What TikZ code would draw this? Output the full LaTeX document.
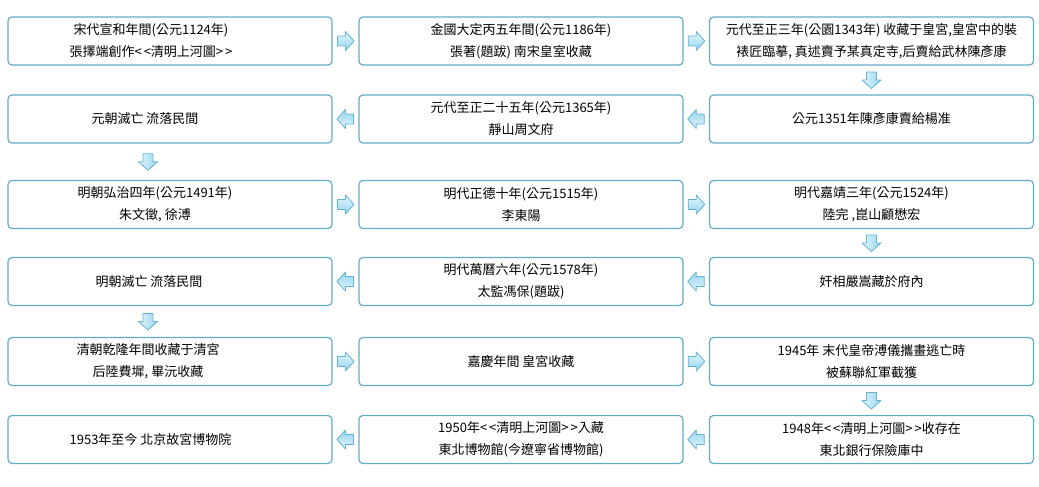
\documentclass[tikz,border=0pt]{standalone}
\usepackage{fontspec}
\setmainfont{Noto Sans CJK TC}
\usepackage{tikz}
\usetikzlibrary{calc}
\definecolor{boxline}{RGB}{98,172,200}
\definecolor{arrline}{RGB}{100,178,210}
\definecolor{arrtop}{RGB}{226,246,253}
\definecolor{arrbot}{RGB}{150,213,239}
\tikzset{
  event/.style={draw=boxline,line width=1.2pt,rounded corners=4pt,
    minimum width=324pt,minimum height=48pt,inner sep=0pt,align=center,
    text=black,font=\fontsize{13}{22}\selectfont},
  % first column: text sits left of the box centre
  leftcol/.style={align=center,text=black,inner sep=0pt,
    font=\fontsize{13}{22}\selectfont,xshift=#1},
  arrowbody/.style={draw=arrline,line width=.8pt,top color=arrtop,
    bottom color=arrbot,line join=round},
  pics/blockarrow/.style={code={
    \draw[arrowbody,rotate=#1,shading angle=-#1]
      (-8,-5) -- (0,-5) -- (0,-9.5) -- (8.5,0) -- (0,9.5) -- (0,5) -- (-8,5) -- cycle;}}
}
\begin{document}
\begin{tikzpicture}[x=1pt,y=-1pt]
  \useasboundingbox (0,0) rectangle (1039,487);
  % row 1
  \node[event,label={[leftcol=-19pt]center:{宋代宣和年間(公元1124年)\\張擇端創作<\kern2pt<清明上河圖>\kern2pt>}}] (p1) at (170,41) {};
  \node[event] (p2) at (521,41) {金國大定丙五年間(公元1186年)\\張著(題跋) 南宋皇室收藏};
  \node[event] (p3) at (871.5,41) {元代至正三年(公園1343年) 收藏于皇宮,皇宮中的裝\\裱匠臨摹, 真述賣予某真定寺,后賣給武林陳彥康};
  % row 2
  \node[event] (p4) at (871.5,119) {公元1351年陳彥康賣給楊准};
  \node[event] (p5) at (521,119) {元代至正二十五年(公元1365年)\\靜山周文府};
  \node[event,label={[leftcol=-25pt]center:{元朝滅亡 流落民間}}] (p6) at (170,119) {};
  % row 3
  \node[event,label={[leftcol=-15pt]center:{明朝弘治四年(公元1491年)\\朱文徵, 徐溥}}] (p7) at (170,204.5) {};
  \node[event] (p8) at (521,204.5) {明代正德十年(公元1515年)\\李東陽};
  \node[event] (p9) at (871.5,204.5) {明代嘉靖三年(公元1524年)\\陸完 ,崑山顧懋宏};
  % row 4
  \node[event] (p10) at (871.5,281.5) {奸相嚴嵩藏於府內};
  \node[event] (p11) at (521,281.5) {明代萬曆六年(公元1578年)\\太監馮保(題跋)};
  \node[event,label={[leftcol=-21pt]center:{明朝滅亡 流落民間}}] (p12) at (170,281.5) {};
  % row 5
  \node[event,label={[leftcol=-22pt]center:{清朝乾隆年間收藏于清宮\\后陸費墀, 畢沅收藏}}] (p13) at (170,361.5) {};
  \node[event] (p14) at (521,361.5) {嘉慶年間 皇宮收藏};
  \node[event] (p15) at (871.5,361.5) {1945年 末代皇帝溥儀攜畫逃亡時\\被蘇聯紅軍截獲};
  % row 6
  \node[event] (p16) at (871.5,439.5) {1948年<\kern2pt<清明上河圖>\kern2pt>收存在\\東北銀行保險庫中};
  \node[event] (p17) at (521,439.5) {1950年<\kern2pt<清明上河圖>\kern2pt>入藏\\東北博物館(今遼寧省博物館)};
  \node[event,label={[leftcol=-19.5pt]center:{1953年至今 北京故宮博物院}}] (p18) at (170,439.5) {};
  % arrows
  \foreach \a/\b in {p1/p2,p2/p3,p7/p8,p8/p9,p13/p14,p14/p15}
    \pic (r-\a) at ($(\a.east)!.5!(\b.west)$) {blockarrow=0};
  \foreach \a/\b in {p4/p5,p5/p6,p10/p11,p11/p12,p16/p17,p17/p18}
    \pic (l-\a) at ($(\a.west)!.5!(\b.east)$) {blockarrow=180};
  \foreach \a/\b in {p3/p4,p9/p10,p15/p16}
    \pic (d-\a) at ($(\a.south)!.5!(\b.north)$) {blockarrow=-90};
  \foreach \a/\b in {p6/p7,p12/p13}
    \pic (d-\a) at ($(\a.south)!.5!(\b.north)+(-22,0)$) {blockarrow=-90};
\end{tikzpicture}
\end{document}
